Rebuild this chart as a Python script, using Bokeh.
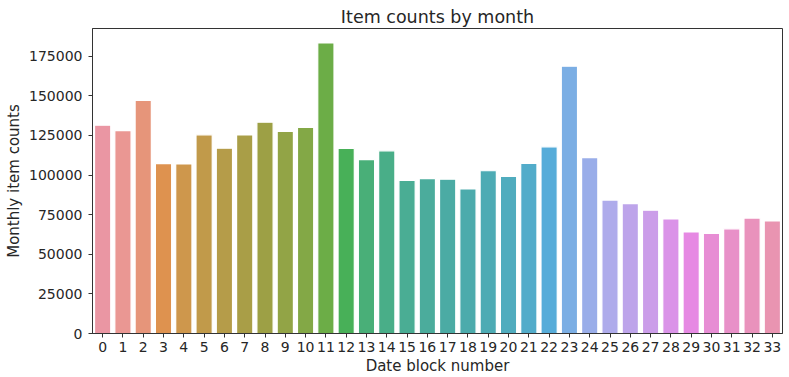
import math
import colorsys
from bokeh.plotting import figure
from bokeh.models import ColumnDataSource, FactorRange, Range1d, FixedTicker, BasicTickFormatter
from bokeh.embed import file_html
from bokeh.resources import INLINE

# ---- data ----
date_blocks = [str(i) for i in range(34)]
item_counts = [131479, 128090, 147142, 107190, 106970, 125381, 116966, 125291,
               133332, 127541, 130009, 183342, 116899, 109687, 115297, 96556,
               97790, 97429, 91280, 102721, 99208, 107422, 117845, 168755,
               110971, 84198, 82014, 77827, 72295, 64114, 63187, 66079,
               72843, 71056]
y_ticks = [0, 25000, 50000, 75000, 100000, 125000, 150000, 175000]

# ---- seaborn-like husl palette (colour styling) ----
_m = [[3.2406, -1.5372, -0.4986],
      [-0.9689, 1.8758, 0.0415],
      [0.0557, -0.2040, 1.0570]]
_refU, _refV = 0.19784, 0.46834


def _max_chroma(L, H):
    hrad = math.radians(H)
    sinH, cosH = math.sin(hrad), math.cos(hrad)
    sub1 = math.pow(L + 16, 3.0) / 1560896.0
    sub2 = sub1 if sub1 > 0.008856 else (L / 903.3)
    result = float("inf")
    for m1, m2, m3 in _m:
        top = (0.99915 * m1 + 1.05122 * m2 + 1.14460 * m3) * sub2
        rbottom = 0.86330 * m3 - 0.17266 * m2
        lbottom = 0.12949 * m3 - 0.38848 * m1
        bottom = (rbottom * sinH + lbottom * cosH) * sub2
        for t in (0.0, 1.0):
            C = L * (top - 1.05122 * t) / (bottom + 0.17266 * sinH * t)
            if 0.0 < C < result:
                result = C
    return result


def _f_inv(t):
    return t ** 3 if t ** 3 > 0.008856 else (116.0 * t - 16.0) / 903.3


def _from_linear(c):
    return 12.92 * c if c <= 0.0031308 else 1.055 * math.pow(c, 1 / 2.4) - 0.055


def husl_to_rgb(H, S, L):
    C = _max_chroma(L, H) / 100.0 * S
    hr = math.radians(H)
    U, V = math.cos(hr) * C, math.sin(hr) * C
    Y = _f_inv((L + 16.0) / 116.0)
    varU = U / (13.0 * L) + _refU
    varV = V / (13.0 * L) + _refV
    X = 0.0 - (9.0 * Y * varU) / ((varU - 4.0) * varV - varU * varV)
    Z = (9.0 * Y - 15.0 * varV * Y - varV * X) / (3.0 * varV)
    rgb = [_from_linear(r[0] * X + r[1] * Y + r[2] * Z) for r in _m]
    return [min(max(c, 0.0), 1.0) for c in rgb]


def palette(n, lightness=0.7, saturation=0.75):
    out = []
    for i in range(n):
        h = ((i / n) + 0.01) % 1 * 359
        r, g, b = husl_to_rgb(h, 0.9 * 99, lightness * 99)
        hh, ll, ss = colorsys.rgb_to_hls(r, g, b)
        r, g, b = colorsys.hls_to_rgb(hh, ll, ss * saturation)
        out.append("#%02x%02x%02x" % tuple(int(round(c * 255)) for c in (r, g, b)))
    return out


colors = palette(len(date_blocks))

source = ColumnDataSource(data=dict(x=date_blocks, top=item_counts, color=colors))

FONT = "DejaVu Sans"
TXT = "#262626"

p = figure(width=789, height=377, output_backend="svg", toolbar_location=None,
           x_range=FactorRange(factors=date_blocks, range_padding=0),
           y_range=Range1d(0, max(item_counts) * 1.05),
           title="Item counts by month")
p.min_border_left = 92
p.min_border_right = 7
p.min_border_top = 28
p.min_border_bottom = 44

p.vbar(x="x", top="top", width=0.8, source=source, fill_color="color",
       line_color="white", line_width=1.2)

p.title.align = "center"
p.title.text_font = FONT
p.title.text_font_size = "17.5px"
p.title.text_font_style = "normal"
p.title.text_color = TXT
p.title.standoff = 4

p.xgrid.grid_line_color = None
p.ygrid.grid_line_color = None
p.outline_line_color = "#333333"
p.outline_line_width = 1
p.outline_line_alpha = 1

p.xaxis.axis_label = "Date block number"
p.yaxis.axis_label = "Monthly item counts"
p.yaxis.ticker = FixedTicker(ticks=y_ticks)
p.yaxis.formatter = BasicTickFormatter(use_scientific=False)

for ax in (p.xaxis[0], p.yaxis[0]):
    ax.axis_line_color = "#333333"
    ax.major_tick_line_color = "#333333"
    ax.major_tick_out = 4
    ax.major_tick_in = 0
    ax.minor_tick_line_color = None
    ax.major_label_text_font = FONT
    ax.major_label_text_font_size = "14px"
    ax.major_label_text_color = TXT
    ax.axis_label_text_font = FONT
    ax.axis_label_text_font_size = "15px"
    ax.axis_label_text_font_style = "normal"
    ax.axis_label_text_color = TXT

p.xaxis.major_label_standoff = 4
p.yaxis.major_label_standoff = 6
p.xaxis.axis_label_standoff = 2
p.yaxis.axis_label_standoff = 3

open("out.html", "w").write(file_html(p, INLINE))
